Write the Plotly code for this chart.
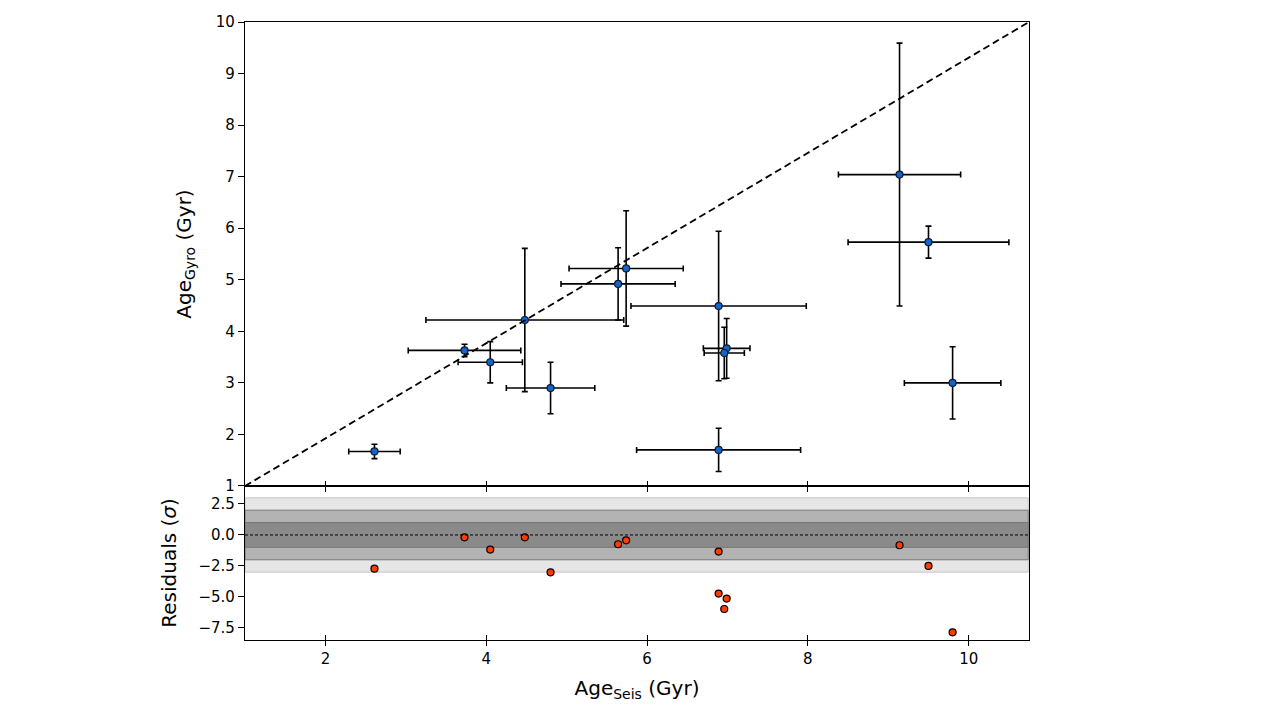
import plotly.graph_objects as go

# seismic ages (x) and gyro ages (y) with 1-sigma errors, in Gyr
age_seis = [2.61, 3.73, 4.05, 4.48, 4.80, 5.64, 5.74, 6.89, 6.99, 6.96, 6.89, 9.14, 9.50, 9.80]
err_seis = [0.32, 0.70, 0.40, 1.23, 0.55, 0.71, 0.71, 1.09, 0.29, 0.25, 1.02, 0.76, 1.00, 0.60]
age_gyro = [1.67, 3.63, 3.40, 4.22, 2.90, 4.92, 5.22, 4.49, 3.67, 3.58, 1.70, 7.04, 5.73, 3.00]
err_gyro = [0.14, 0.12, 0.40, 1.39, 0.50, 0.70, 1.12, 1.45, 0.58, 0.50, 0.42, 2.55, 0.31, 0.70]

# residuals in sigma
resid = [-2.72, -0.19, -1.18, -0.19, -3.01, -0.75, -0.43, -1.34, -5.13, -5.97, -4.73, -0.83, -2.50, -7.85]

resid_ticks = [-7.5, -5.0, -2.5, 0.0, 2.5]
bands = [(3, "#e6e6e6"), (2, "#b3b3b3"), (1, "#8a8a8a")]

FONT = "DejaVu Sans"

fig = go.Figure()

fig.add_trace(go.Scatter(
    x=age_seis, y=age_gyro, mode="markers", xaxis="x", yaxis="y",
    error_x=dict(type="data", array=err_seis, color="black", thickness=1.6, width=3),
    error_y=dict(type="data", array=err_gyro, color="black", thickness=1.6, width=3),
    marker=dict(size=7, color="#1565c8", line=dict(color="#0a1a30", width=1.2)),
    showlegend=False, hoverinfo="x+y",
))

fig.add_trace(go.Scatter(
    x=age_seis, y=resid, mode="markers", xaxis="x2", yaxis="y2",
    marker=dict(size=7, color="#ff3c00", line=dict(color="black", width=1.2)),
    showlegend=False, hoverinfo="x+y",
))

# dummy traces so the overlay axes (inward tick halves) get drawn
fig.add_trace(go.Scatter(x=[None], y=[None], xaxis="x3", yaxis="y", showlegend=False, hoverinfo="skip"))
fig.add_trace(go.Scatter(x=[None], y=[None], xaxis="x4", yaxis="y2", showlegend=False, hoverinfo="skip"))

# sigma bands in the residual panel
for k, col in bands:
    fig.add_shape(type="rect", xref="x2 domain", yref="y2", x0=0, x1=0.999, y0=-k, y1=k,
                  fillcolor=col, line=dict(color="#777777" if k < 3 else "#c8c8c8", width=1),
                  layer="below")
fig.add_shape(type="line", xref="x2 domain", yref="y2", x0=0, x1=1, y0=0, y1=0,
              line=dict(color="black", width=1, dash="3px,2px"))

# one-to-one diagonal in axes coordinates
fig.add_shape(type="line", xref="x domain", yref="y domain", x0=0, y0=0, x1=1, y1=1,
              line=dict(color="black", width=1.8, dash="7px,4px"))

split = 0.2492
xr = [1, 10.75]
ax_common = dict(showline=True, linecolor="black", linewidth=1.2, mirror=True,
                 showgrid=False, zeroline=False, tickcolor="black", automargin=False,
                 ticklabeloverflow="allow",
                 tickfont=dict(family=FONT, size=15, color="black"))
overlay = dict(showticklabels=False, showline=False, showgrid=False, zeroline=False,
               tickcolor="black", automargin=False)

fig.update_layout(
    width=1280, height=717,
    margin=dict(l=237, r=259, t=14, b=85),
    paper_bgcolor="white", plot_bgcolor="white",
    font=dict(family=FONT, color="black"),
    xaxis=dict(domain=[0, 1], anchor="y", range=xr, dtick=2, tick0=0, ticks="outside", ticklen=5,
               showticklabels=False, **ax_common),
    xaxis3=dict(overlaying="x", anchor="y", range=xr, dtick=2, tick0=0, ticks="inside", ticklen=5,
                **overlay),
    yaxis=dict(domain=[split, 1], anchor="x", range=[1, 10], dtick=1, ticks="outside", ticklen=6,
               title=dict(text="Age<sub>Gyro</sub> (Gyr)", font=dict(family=FONT, size=20), standoff=18),
               **ax_common),
    xaxis2=dict(domain=[0, 1], anchor="y2", range=xr, dtick=2, tick0=0, ticks="outside", ticklen=5,
                title=dict(text="Age<sub>Seis</sub> (Gyr)", font=dict(family=FONT, size=20), standoff=13),
                **ax_common),
    xaxis4=dict(overlaying="x2", anchor="y2", range=xr, dtick=2, tick0=0, ticks="inside", ticklen=5,
                **overlay),
    yaxis2=dict(domain=[0, split], anchor="x2", range=[-8.47, 3.95], tickvals=resid_ticks,
                tickformat=".1f", ticks="outside", ticklen=6,
                title=dict(text="Residuals (<i>σ</i>)", font=dict(family=FONT, size=20), standoff=16),
                **ax_common),
)

fig.write_html("out.html")
